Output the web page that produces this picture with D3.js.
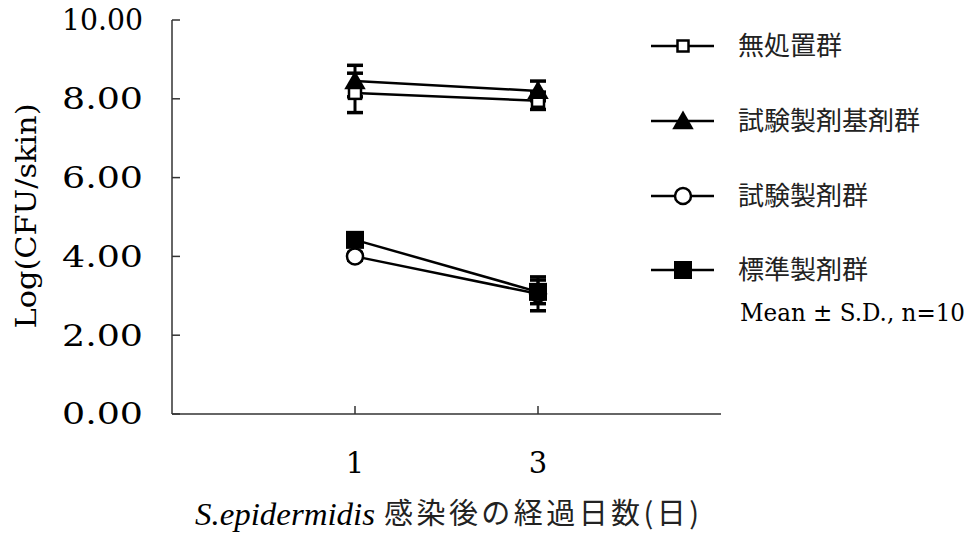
<!DOCTYPE html>
<html lang="ja">
<head>
<meta charset="UTF-8">
<title>S.epidermidis</title>
<script src="https://d3js.org/d3.v7.min.js"></script>
<style>
  body { margin: 0; background: #fff; }
  .num { font-family: "DejaVu Serif", "Liberation Serif", serif; }
  .ital { font-family: "Liberation Serif", serif; font-style: italic; }
  .jp { font-family: "Noto Sans CJK JP", sans-serif; }
</style>
</head>
<body>
<svg width="976" height="539"></svg>
<script>
// data
const days = ["1", "3"];
const yTicks = [0, 2, 4, 6, 8, 10];
const groups = ["無処置群", "試験製剤基剤群", "試験製剤群", "標準製剤群"];
const symbols = ["openSquare", "triangle", "openCircle", "filledSquare"];
const untreated = [8.15, 7.95];
const untreatedSD = [0.5, 0.22];
const vehicle = [8.45, 8.2];
const vehicleSD = [0.4, 0.25];
const testDrug = [4.0, 3.05];
const testDrugSD = [0.1, 0.43];
const standard = [4.42, 3.1];
const standardSD = [0.15, 0.3];

const series = [
  { name: groups[0], sym: symbols[0], v: untreated, sd: untreatedSD },
  { name: groups[1], sym: symbols[1], v: vehicle, sd: vehicleSD },
  { name: groups[2], sym: symbols[2], v: testDrug, sd: testDrugSD },
  { name: groups[3], sym: symbols[3], v: standard, sd: standardSD }
];

const svg = d3.select("svg");
const plotLeft = 172, plotRight = 721, plotTop = 20, plotBottom = 414;

const x = d3.scalePoint().domain(days).range([plotLeft, plotRight]).padding(1);
const y = d3.scaleLinear().domain([0, 10]).range([plotBottom, plotTop]);

// axes
const axisColor = "#333";
svg.append("line").attr("x1", plotLeft).attr("x2", plotLeft).attr("y1", plotTop).attr("y2", plotBottom)
  .attr("stroke", axisColor).attr("stroke-width", 1.5);
svg.append("line").attr("x1", plotLeft).attr("x2", plotRight).attr("y1", plotBottom).attr("y2", plotBottom)
  .attr("stroke", axisColor).attr("stroke-width", 1.5);

yTicks.forEach(t => {
  svg.append("line").attr("x1", plotLeft).attr("x2", plotLeft + 8)
    .attr("y1", y(t)).attr("y2", y(t)).attr("stroke", axisColor).attr("stroke-width", 1.5);
  svg.append("text").attr("class", "num")
    .attr("x", 143).attr("y", y(t)).attr("dy", "0.36em")
    .attr("text-anchor", "end").attr("font-size", 29)
    .attr("textLength", 81).attr("lengthAdjust", "spacingAndGlyphs")
    .text(t.toFixed(2));
});

days.forEach(d => {
  svg.append("line").attr("x1", x(d)).attr("x2", x(d))
    .attr("y1", plotBottom).attr("y2", plotBottom - 8).attr("stroke", axisColor).attr("stroke-width", 1.5);
  svg.append("text").attr("class", "num")
    .attr("x", x(d)).attr("y", 473)
    .attr("text-anchor", "middle").attr("font-size", 29)
    .text(d);
});

// axis titles
svg.append("text").attr("class", "num")
  .attr("transform", "translate(36,216) rotate(-90)")
  .attr("text-anchor", "middle").attr("font-size", 28)
  .attr("textLength", 225).attr("lengthAdjust", "spacingAndGlyphs")
  .text("Log(CFU/skin)");

svg.append("text").attr("class", "ital").attr("x", 195).attr("y", 525)
  .attr("font-size", 32).attr("textLength", 180).attr("lengthAdjust", "spacingAndGlyphs")
  .text("S.epidermidis");
svg.append("text").attr("class", "jp").attr("x", 384).attr("y", 524)
  .attr("font-size", 29).attr("fill", "#222")
  .attr("textLength", 315).attr("lengthAdjust", "spacing")
  .text("感染後の経過日数(日)");

// markers
function drawMarker(g, sym, cx, cy, legend) {
  if (sym === "openSquare") {
    const s = legend ? 11 : 12;
    g.append("rect").attr("x", cx - s / 2).attr("y", cy - s / 2).attr("width", s).attr("height", s)
      .attr("fill", "#fff").attr("stroke", "#000").attr("stroke-width", 2.5);
  } else if (sym === "triangle") {
    g.append("path").attr("d", d3.symbol(d3.symbolTriangle, 200)())
      .attr("transform", `translate(${cx},${cy + 2})`).attr("fill", "#000");
  } else if (sym === "openCircle") {
    g.append("circle").attr("cx", cx).attr("cy", cy).attr("r", 8)
      .attr("fill", "#fff").attr("stroke", "#000").attr("stroke-width", 2.5);
  } else {
    const s = 18;
    g.append("rect").attr("x", cx - s / 2).attr("y", cy - s / 2).attr("width", s).attr("height", s)
      .attr("fill", "#000");
  }
}

const line = d3.line().x((v, i) => x(days[i])).y(v => y(v));
const plot = svg.append("g");

series.forEach(s => {
  plot.append("path").attr("d", line(s.v)).attr("fill", "none")
    .attr("stroke", "#000").attr("stroke-width", 2.5);
  s.v.forEach((v, i) => {
    const cx = x(days[i]);
    plot.append("line").attr("x1", cx).attr("x2", cx)
      .attr("y1", y(v - s.sd[i])).attr("y2", y(v + s.sd[i]))
      .attr("stroke", "#000").attr("stroke-width", 3);
    [v - s.sd[i], v + s.sd[i]].forEach(e => {
      plot.append("line").attr("x1", cx - 8).attr("x2", cx + 8)
        .attr("y1", y(e)).attr("y2", y(e))
        .attr("stroke", "#000").attr("stroke-width", 3.5);
    });
  });
});
series.forEach(s => {
  s.v.forEach((v, i) => drawMarker(plot, s.sym, x(days[i]), y(v), false));
});

// legend
const legendY = [46, 121, 196, 270];
series.forEach((s, i) => {
  const g = svg.append("g");
  g.append("line").attr("x1", 651).attr("x2", 714)
    .attr("y1", legendY[i]).attr("y2", legendY[i])
    .attr("stroke", "#000").attr("stroke-width", 2.5);
  drawMarker(g, s.sym, 683, legendY[i], true);
  g.append("text").attr("class", "jp").attr("x", 738).attr("y", legendY[i])
    .attr("dy", "0.36em").attr("font-size", 26).attr("fill", "#222").text(s.name);
});
svg.append("text").attr("class", "num").attr("x", 740).attr("y", 321)
  .attr("font-size", 24).attr("textLength", 225).attr("lengthAdjust", "spacingAndGlyphs")
  .text("Mean ± S.D., n=10");
</script>
</body>
</html>
